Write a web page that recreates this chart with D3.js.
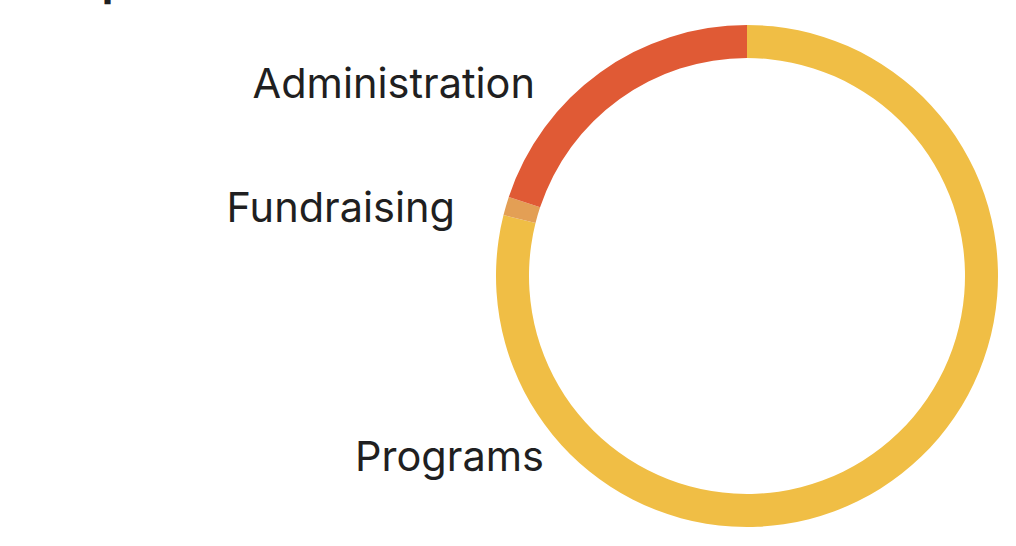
<!DOCTYPE html>
<html>
<head>
<meta charset="utf-8">
<script src="https://cdn.jsdelivr.net/npm/d3@7"></script>
<style>
html, body { margin: 0; padding: 0; background: #fff; }
svg { display: block; }
text { font-family: Inter, "Noto Sans", sans-serif; fill: #1f1f21; }
</style>
</head>
<body>
<svg id="chart" width="1016" height="546"></svg>
<script>
const categories = ["Programs", "Fundraising", "Administration"];
const values = [78.9, 1.2, 19.9];
const colors = ["#F0BE45", "#E39F55", "#E05A35"];
const title = "Expenses";

const W = 1016, H = 546;
const svg = d3.select("#chart");
const cx = 747, cy = 276, outerR = 251, innerR = 218;

const data = categories.map((c, i) => ({ name: c, value: values[i], color: colors[i] }));
const pie = d3.pie().sort(null).value(d => d.value);
const arc = d3.arc().innerRadius(innerR).outerRadius(outerR);

const g = svg.append("g").attr("transform", `translate(${cx},${cy})`);
g.selectAll("path").data(pie(data)).join("path")
  .attr("d", arc)
  .attr("fill", d => d.data.color);

// cut-off title at top
svg.append("text").attr("x", 45).attr("y", -5)
  .attr("font-size", 48).attr("font-weight", 600).text(title);

// labels
const labelPos = {
  "Administration": [535, 98],
  "Fundraising": [455, 222],
  "Programs": [544, 471]
};
svg.selectAll("text.lbl").data(data).join("text")
  .attr("class", "lbl")
  .attr("x", d => labelPos[d.name][0])
  .attr("y", d => labelPos[d.name][1])
  .attr("text-anchor", "end")
  .attr("font-size", 41.5)
  .text(d => d.name);
</script>
</body>
</html>
